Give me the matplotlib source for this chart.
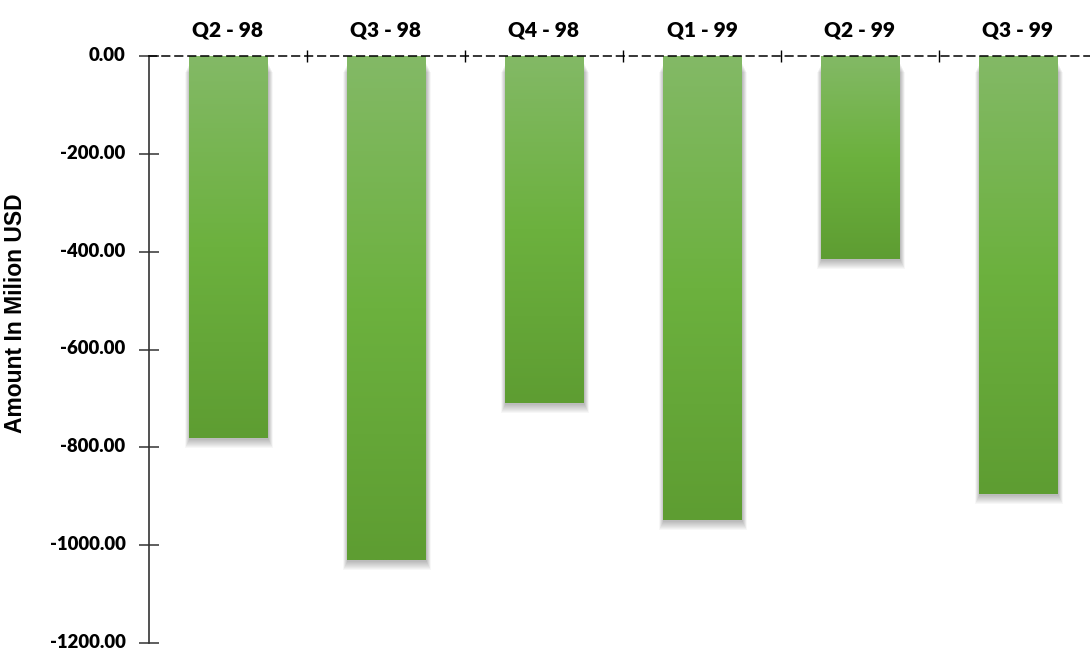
import matplotlib.pyplot as plt
import matplotlib.colors as mcolors
import matplotlib.transforms as mtransforms
from matplotlib.patches import Rectangle
import numpy as np

quarters = ["Q2 - 98", "Q3 - 98", "Q4 - 98", "Q1 - 99", "Q2 - 99", "Q3 - 99"]
amounts = [-780, -1030, -710, -948, -415, -896]
y_ticks = [0, -200, -400, -600, -800, -1000, -1200]

W, H = 1090, 650
BAR_W = 0.5
LABEL_FONT = ["Lato", "DejaVu Sans"]

fig = plt.figure(figsize=(W / 100, H / 100), dpi=100)
# axes run a little past the right edge so the dashed zero line is cut off
ax = fig.add_axes([149 / W, 1 - 643 / H, (1097 - 149) / W, (643 - 56) / H])
ax.set_xlim(-0.5, len(quarters) - 0.5)
ax.set_ylim(-1200, 0)

# data units per pixel, used for shadow offsets
px_x = (len(quarters)) / (1097 - 149)
px_y = 1200 / (643 - 56)

grad = mcolors.LinearSegmentedColormap.from_list(
    "bar", ["#5e9d32", "#6cb13e", "#83b966"])
ramp = np.linspace(0, 1, 256).reshape(-1, 1)

for i, v in enumerate(amounts):
    x0 = i - BAR_W / 2
    # soft drop shadow: stacked translucent rectangles
    for k in range(9, 0, -1):
        sh = Rectangle((x0 - k * 0.45 * px_x + 1 * px_x, v - (k + 1) * px_y),
                       BAR_W + k * 0.9 * px_x, -v - 6 * px_y,
                       facecolor="black", alpha=0.03, edgecolor="none",
                       zorder=1)
        ax.add_patch(sh)
    rect = Rectangle((x0, v), BAR_W, -v, facecolor="none",
                     edgecolor="none", zorder=2)
    ax.add_patch(rect)
    im = ax.imshow(ramp, cmap=grad, aspect="auto", origin="lower",
                   extent=(x0, x0 + BAR_W, v, 0), zorder=2,
                   interpolation="bilinear")
    im.set_clip_path(rect)

ax.set_xlim(-0.5, len(quarters) - 0.5)
ax.set_ylim(-1200, 0)

for s in ["right", "bottom"]:
    ax.spines[s].set_visible(False)
ax.spines["left"].set_color("#333333")
ax.spines["left"].set_linewidth(1.2)
ax.spines["top"].set_linestyle((0, (5, 3.5)))
ax.spines["top"].set_linewidth(1.1)
ax.spines["top"].set_zorder(3)

ax.set_yticks(y_ticks)
ax.set_yticklabels(["%.2f" % t for t in y_ticks], family=LABEL_FONT,
                   fontweight="heavy", fontsize=13.3)
ax.tick_params(axis="y", direction="inout", length=14, width=1.1,
               pad=10, color="#333333")
# nudge the value labels up a touch so the lowest one stays inside
lift = mtransforms.ScaledTranslation(0, 2 / 100, fig.dpi_scale_trans)
for lbl in ax.get_yticklabels():
    lbl.set_transform(lbl.get_transform() + lift)

# boundary ticks across the zero line, labels at category centres
ax.xaxis.set_ticks_position("top")
ax.set_xticks(np.arange(0.5, len(quarters) - 0.5, 1))
ax.set_xticklabels([])
ax.tick_params(axis="x", which="major", direction="inout", length=8,
               width=1.0, top=True, bottom=False)
ax.set_xticks(np.arange(len(quarters)), minor=True)
ax.set_xticklabels(quarters, minor=True, family=LABEL_FONT,
                   fontweight="heavy", fontsize=15)
ax.tick_params(axis="x", which="minor", length=0, pad=12, top=True,
               bottom=False, labeltop=True, labelbottom=False)

ax.set_ylabel("Amount In Milion USD", family=["Liberation Sans"],
              fontweight="bold", fontsize=16.5)
ax.yaxis.set_label_coords((27 - 149) / 948, (643 - 313) / 587)

fig.savefig("out.png", dpi=100)
